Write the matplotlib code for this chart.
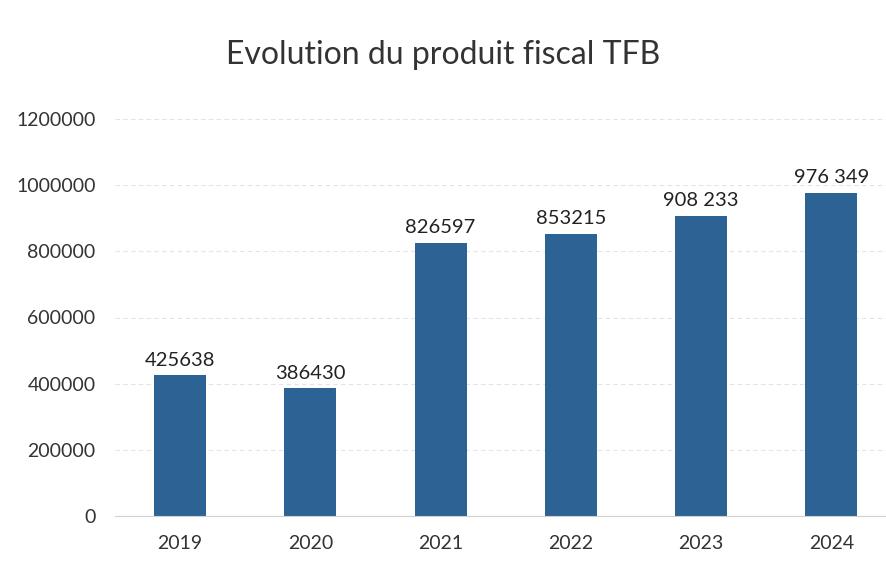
import matplotlib.pyplot as plt

years = ['2019', '2020', '2021', '2022', '2023', '2024']
values = [425638, 386430, 826597, 853215, 908233, 976349]
value_labels = ['425638', '386430', '826597', '853215', '908 233', '976 349']
yticks = [0, 200000, 400000, 600000, 800000, 1000000, 1200000]

plt.rcParams['font.family'] = ['Lato', 'DejaVu Sans']

fig = plt.figure(figsize=(8.86, 5.62), dpi=100)
ax = fig.add_axes([115 / 886, 46 / 562, 771 / 886, 397 / 562])

x = list(range(len(years)))
bars = ax.bar(x, values, width=0.4, color='#2d6394', zorder=2)

for b, lab in zip(bars, value_labels):
    ax.text(b.get_x() + b.get_width() / 2, b.get_height() + 20000, lab,
            ha='center', va='bottom', fontsize=14.5, color='#222222')

ax.set_xlim(-0.5, 5.42)
ax.set_ylim(0, 1200000)
ax.set_yticks(yticks)
ax.set_yticklabels([str(t) for t in yticks])
ax.set_xticks(x)
ax.set_xticklabels(years)
ax.tick_params(axis='both', length=0, labelsize=14, colors='#333333')
ax.tick_params(axis='y', pad=14)
ax.tick_params(axis='x', pad=14)

ax.grid(axis='y', color='#e4e4e4', linewidth=0.8, linestyle=(0, (4, 3)), zorder=0)
for s in ['top', 'right', 'left']:
    ax.spines[s].set_visible(False)
ax.spines['bottom'].set_color('#d0d0d0')

fig.text(0.5, 1 - 55 / 562, 'Evolution du produit fiscal TFB', ha='center', va='center',
         fontsize=23, color='#333333')

fig.savefig('out.png', dpi=100)
